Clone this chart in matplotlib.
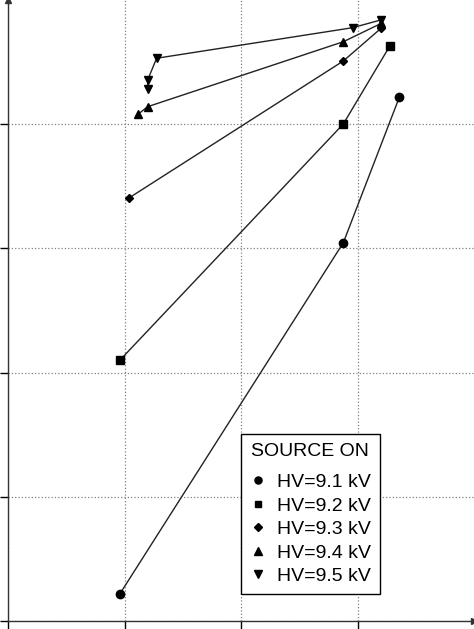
import matplotlib
matplotlib.use('Agg')
import matplotlib.pyplot as plt
from matplotlib.lines import Line2D

plt.rcParams['font.family'] = ['Liberation Sans', 'DejaVu Sans']

# data (arbitrary units; grid lines at integer values)
labels = ['HV=9.1 kV', 'HV=9.2 kV', 'HV=9.3 kV', 'HV=9.4 kV', 'HV=9.5 kV']
x_91 = [0.96, 2.874, 3.354]
y_91 = [0.22, 3.046, 4.217]
x_92 = [0.96, 2.874, 3.274]
y_92 = [2.101, 4.002, 4.632]
x_93 = [1.04, 2.874, 3.197]
y_93 = [3.408, 4.509, 4.772]
x_94 = [1.117, 1.197, 2.874, 3.197]
y_94 = [4.082, 4.141, 4.664, 4.811]
x_95 = [1.197, 1.197, 1.274, 2.954, 3.194]
y_95 = [4.281, 4.356, 4.531, 4.777, 4.839]
x_ticks = [0, 1, 2, 3]
y_ticks = [0, 1, 2, 3, 4]

series = [(x_91, y_91, 'o', 6.0), (x_92, y_92, 's', 5.5), (x_93, y_93, 'D', 4.5),
          (x_94, y_94, '^', 6.0), (x_95, y_95, 'v', 6.0)]

fig = plt.figure(figsize=(4.74, 6.29), dpi=100)
ax = fig.add_axes([8/474, 8/629, 466/474, 621/629])
ax.set_xlim(0, 3.994)
ax.set_ylim(0, 5.0)

for xs, ys, m, ms in series:
    ax.plot(xs, ys, color='#222222', lw=1.0, marker=m, markersize=ms,
            markerfacecolor='black', markeredgecolor='black', zorder=3, clip_on=False)

ax.set_xticks(x_ticks)
ax.set_yticks(y_ticks)
ax.set_xticklabels([])
ax.set_yticklabels([])
ax.tick_params(direction='out', length=6, width=1, color='black')
ax.grid(True, linestyle=':', color='#808080', lw=0.9)
for s in ['top', 'right']:
    ax.spines[s].set_visible(False)
for s in ['left', 'bottom']:
    ax.spines[s].set_color('#333333')
    ax.spines[s].set_linewidth(1.0)

# arrow heads at axis ends
ax.plot([1], [0], marker='>', color='#333333', markersize=4, transform=ax.transAxes, clip_on=False)
ax.plot([0], [1], marker='^', color='#333333', markersize=4, transform=ax.transAxes, clip_on=False)

handles = [Line2D([], [], linestyle='none', marker=m, markersize=ms * 0.85,
                  markerfacecolor='black', markeredgecolor='black')
           for (_, _, m, ms) in series]
leg = ax.legend(handles, labels, title='SOURCE ON', loc='upper left',
                bbox_to_anchor=(233/466, (621-434)/621), borderaxespad=0,
                fontsize=14, title_fontsize=14, frameon=True, fancybox=False,
                edgecolor='black', framealpha=1, handlelength=0.8, handletextpad=0.6,
                labelspacing=0.3, borderpad=0.45)
leg.get_frame().set_linewidth(1.0)
leg._legend_box.sep = 10

fig.savefig('out.png', dpi=100)
